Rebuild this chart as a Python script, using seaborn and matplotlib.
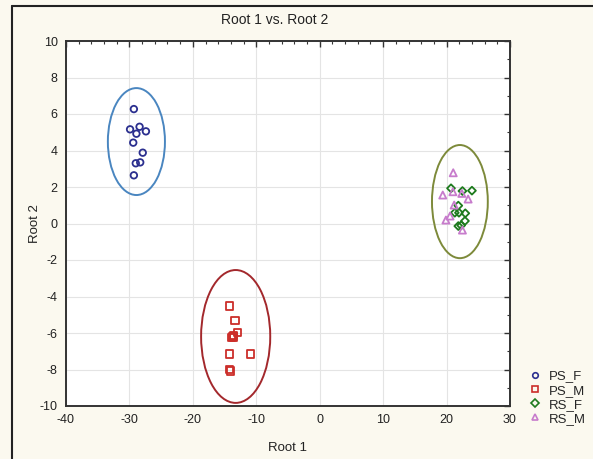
import matplotlib
matplotlib.use("Agg")
import matplotlib.pyplot as plt
from matplotlib.patches import Ellipse
from matplotlib.lines import Line2D
from matplotlib.ticker import MultipleLocator
import seaborn as sns
import pandas as pd

# data
groups = ["PS_F", "PS_M", "RS_F", "RS_M"]

ps_f_x = [-29.3, -29.9, -28.4, -28.9, -27.4, -29.4, -27.9, -29.0, -28.3, -29.3]
ps_f_y = [6.27, 5.16, 5.30, 4.92, 5.05, 4.43, 3.88, 3.30, 3.35, 2.64]

ps_m_x = [-14.25, -13.35, -12.9, -13.75, -13.55, -13.65, -13.85, -14.25, -10.9, -14.1, -14.2]
ps_m_y = [-4.52, -5.33, -5.96, -6.18, -6.12, -6.22, -6.25, -7.15, -7.15, -8.08, -8.02]

rs_f_x = [20.7, 22.5, 24.0, 21.85, 21.3, 21.95, 22.95, 22.9, 21.85, 22.3]
rs_f_y = [1.93, 1.78, 1.80, 0.98, 0.59, 0.59, 0.56, 0.14, -0.14, -0.10]

rs_m_x = [21.05, 19.4, 21.0, 22.4, 23.4, 21.2, 20.55, 19.9, 22.5]
rs_m_y = [2.78, 1.56, 1.74, 1.65, 1.34, 1.01, 0.41, 0.19, -0.36]

# confidence ellipses: centre x, centre y, half width, half height
ell_ps_f = (-28.9, 4.49, 4.5, 2.93)
ell_ps_m = (-13.25, -6.19, 5.45, 3.64)
ell_rs = (22.1, 1.2, 4.4, 3.1)

df = pd.concat([
    pd.DataFrame({"Root 1": ps_f_x, "Root 2": ps_f_y, "group": "PS_F"}),
    pd.DataFrame({"Root 1": ps_m_x, "Root 2": ps_m_y, "group": "PS_M"}),
    pd.DataFrame({"Root 1": rs_f_x, "Root 2": rs_f_y, "group": "RS_F"}),
    pd.DataFrame({"Root 1": rs_m_x, "Root 2": rs_m_y, "group": "RS_M"}),
])

sns.set_style("white")
plt.rcParams["font.family"] = ["Liberation Sans", "DejaVu Sans"]
plt.rcParams["axes.unicode_minus"] = False

bg = "#fbf9ef"
fig = plt.figure(figsize=(5.93, 4.59), dpi=100, facecolor=bg)
ax = fig.add_axes([66 / 593, 1 - 406 / 459, 444 / 593, 365 / 459])
ax.set_facecolor("white")

colors = {"PS_F": "#2b2f8f", "PS_M": "#cc2e2a", "RS_F": "#1d7a1d", "RS_M": "#c77ccc"}
markers = {"PS_F": "o", "PS_M": "s", "RS_F": "D", "RS_M": "^"}
sizes = {"PS_F": 22, "PS_M": 26, "RS_F": 16, "RS_M": 26}

# draw ellipses first
for (cx, cy, hw, hh), ec in [(ell_ps_f, "#4a86c0"), (ell_ps_m, "#a3282c"), (ell_rs, "#7d8a3a")]:
    ax.add_patch(Ellipse((cx, cy), 2 * hw, 2 * hh, fill=False, ec=ec, lw=1.4, zorder=2))

for g in groups:
    sub = df[df["group"] == g]
    sns.scatterplot(data=sub, x="Root 1", y="Root 2", ax=ax, marker=markers[g],
                    s=sizes[g], facecolor="none", edgecolor=colors[g],
                    linewidth=1.3, zorder=3, legend=False)

ax.set_xlim(-40, 30)
ax.set_ylim(-10, 10)
ax.xaxis.set_major_locator(MultipleLocator(10))
ax.xaxis.set_minor_locator(MultipleLocator(2))
ax.yaxis.set_major_locator(MultipleLocator(2))
ax.yaxis.set_minor_locator(MultipleLocator(1))
ax.tick_params(which="both", direction="in", top=True, right=True,
               color="#333333", labelsize=9, labelcolor="#222222", pad=6)
ax.tick_params(which="major", length=4, width=1)
ax.tick_params(which="minor", length=2.5, width=0.8)
ax.grid(True, which="major", color="#e4e4e4", lw=0.8)
ax.set_axisbelow(True)
for sp in ax.spines.values():
    sp.set_color("#333333")
    sp.set_linewidth(1.4)

ax.set_xlabel("Root 1", fontsize=9.5, color="#222222", labelpad=11)
ax.set_ylabel("Root 2", fontsize=9.5, color="#222222", labelpad=-1)
fig.text(275 / 593, 1 - 20 / 459, "Root 1 vs. Root 2", ha="center", va="center",
         fontsize=10, color="#222222")

handles = [Line2D([], [], ls="none", marker=markers[g], mfc="none", mec=colors[g],
                  ms=4, mew=1.2) for g in groups]
ax.legend(handles, groups, loc="lower left", bbox_to_anchor=(1.03, -0.066),
          frameon=False, fontsize=9.5, handlelength=1.0, handletextpad=0.5,
          labelspacing=0.14, borderaxespad=0)

# partial frame around the figure (left and top edges)
fig.add_artist(Line2D([12 / 593, 12 / 593], [0, 1 - 6 / 459], color="#222222", lw=1.5))
fig.add_artist(Line2D([12 / 593, 1], [1 - 6 / 459, 1 - 6 / 459], color="#222222", lw=1.5))

fig.savefig("out.png", dpi=100, facecolor=bg)
